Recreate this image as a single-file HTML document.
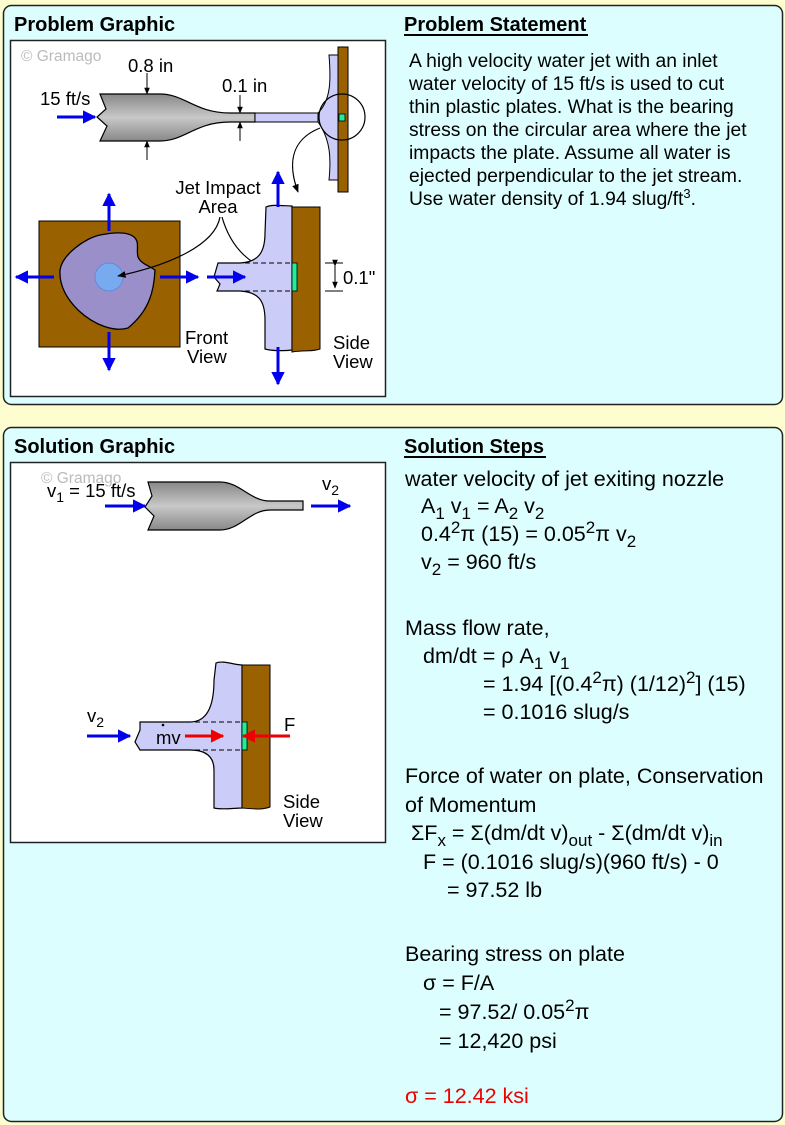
<!DOCTYPE html>
<html><head><meta charset="utf-8"><style>
html,body{margin:0;padding:0;background:#fdfdd0;}
svg{display:block;font-family:"Liberation Sans",Arial,sans-serif;}
</style></head><body>
<svg width="785" height="1125" viewBox="0 0 785 1125" xmlns="http://www.w3.org/2000/svg">
<defs>
<linearGradient id="g" x1="0" y1="0" x2="0" y2="1">
<stop offset="0" stop-color="#888"/><stop offset="0.5" stop-color="#c8c8c8"/><stop offset="1" stop-color="#888"/>
</linearGradient>
<marker id="bA" viewBox="0 0 10 10" refX="9" refY="5" markerWidth="4.5" markerHeight="4.5" orient="auto"><path d="M0,0L10,5L0,10z" fill="#0000ee"/></marker>
<marker id="rA" viewBox="0 0 10 10" refX="9" refY="5" markerWidth="4.5" markerHeight="4.5" orient="auto"><path d="M0,0L10,5L0,10z" fill="#ee0000"/></marker>
<marker id="kA" viewBox="0 0 10 10" refX="9" refY="5" markerWidth="7" markerHeight="7" orient="auto"><path d="M0,1L10,5L0,9z" fill="#000"/></marker>
</defs>
<rect width="785" height="1125" fill="#fdfdd0"/>
<rect x="3.5" y="5.5" width="779" height="399" rx="8" fill="#dcfefe" stroke="#222" stroke-width="1.5"/>
<rect x="3.5" y="427.5" width="779" height="694" rx="8" fill="#dcfefe" stroke="#222" stroke-width="1.5"/>
<rect x="10.5" y="40.5" width="375" height="356" fill="#fff" stroke="#222" stroke-width="1.5"/>
<rect x="10.5" y="462.5" width="375" height="380" fill="#fff" stroke="#222" stroke-width="1.5"/>
<g font-weight="bold" font-size="20">
<text x="14" y="31">Problem Graphic</text>
<text x="14" y="453">Solution Graphic</text>
<text x="404" y="31">Problem Statement</text>
<text x="404" y="453">Solution Steps</text>
</g>
<line x1="404" y1="35" x2="588" y2="35" stroke="#000" stroke-width="2"/>
<line x1="404" y1="457" x2="546" y2="457" stroke="#000" stroke-width="2"/>

<!-- Problem graphic -->
<text x="21" y="61" font-size="15.5" fill="#bbb">© Gramago</text>
<path d="M100,94 L160,94 C185,94 195,113 230,113 L255,113 L255,122 L230,122 C195,122 185,141 160,141 L100,141 L107,126 L97,117 L106,109 Z" fill="url(#g)" stroke="#000" stroke-width="1.2"/>
<rect x="255" y="113" width="70" height="9" fill="#ccccf8" stroke="#000" stroke-width="1"/>
<path d="M329,55 L338,55 L338,180 L329,180 C331,160 331,140 318,122 L318,113 C331,100 331,80 329,55 Z" fill="#ccccf8" stroke="#000" stroke-width="1"/>
<rect x="338" y="47" width="10" height="145" fill="#996100" stroke="#000" stroke-width="1"/>
<rect x="339" y="114" width="6" height="7" fill="#22ee99" stroke="#000" stroke-width="0.8"/>
<circle cx="342" cy="117" r="23" fill="none" stroke="#000" stroke-width="1.2"/>
<path d="M320,128 C290,140 288,165 298,192" fill="none" stroke="#000" stroke-width="1.2" marker-end="url(#kA)"/>
<line x1="57" y1="117" x2="95" y2="117" stroke="#0000ee" stroke-width="3" marker-end="url(#bA)"/>
<text x="40" y="105" font-size="18.5">15 ft/s</text>
<text x="128" y="72" font-size="18.5">0.8 in</text>
<text x="222" y="92" font-size="18.5">0.1 in</text>
<line x1="147" y1="73" x2="147" y2="94" stroke="#000" marker-end="url(#kA)"/>
<line x1="147" y1="160" x2="147" y2="141" stroke="#000" marker-end="url(#kA)"/>
<line x1="240" y1="95" x2="240" y2="113" stroke="#000" marker-end="url(#kA)"/>
<line x1="240" y1="141" x2="240" y2="122" stroke="#000" marker-end="url(#kA)"/>
<!-- front view -->
<rect x="39" y="221" width="141" height="126" fill="#996100" stroke="#000" stroke-width="1"/>
<path d="M60,270 C62,255 85,238 100,235 C115,232 128,232 134,237 C140,242 136,250 138,257 C141,264 150,266 155,270 C154,290 150,310 128,328 C115,332 95,326 78,310 C66,298 59,285 60,270 Z" fill="#9b8fca" stroke="#000" stroke-width="1.3"/>
<circle cx="109" cy="277" r="14" fill="#77aaee" stroke="#6688dd"/>
<line x1="109" y1="231" x2="109" y2="194" stroke="#0000ee" stroke-width="3" marker-end="url(#bA)"/>
<line x1="109" y1="332" x2="109" y2="370" stroke="#0000ee" stroke-width="3" marker-end="url(#bA)"/>
<line x1="54" y1="277" x2="16" y2="277" stroke="#0000ee" stroke-width="3" marker-end="url(#bA)"/>
<line x1="160" y1="277" x2="198" y2="277" stroke="#0000ee" stroke-width="3" marker-end="url(#bA)"/>
<text x="218" y="194" font-size="18.5" text-anchor="middle">Jet Impact</text>
<text x="218" y="213" font-size="18.5" text-anchor="middle">Area</text>
<path d="M220,217 C215,245 170,265 118,276" fill="none" stroke="#000" stroke-width="1.2" marker-end="url(#kA)"/>
<path d="M222,217 C230,245 250,272 290,273" fill="none" stroke="#000" stroke-width="1.2" marker-end="url(#kA)"/>
<text x="185" y="344" font-size="18.5">Front</text>
<text x="187" y="363" font-size="18.5">View</text>
<!-- side view -->
<path d="M266,207 C272,204 285,206 292,206 L292,350 C285,351 272,351 265,349 L265,320 C265,300 258,292 240,291 L217,291 L220,284 L214,277 L218,263 L240,263 C258,262 265,253 265,233 Z" fill="#ccccf8" stroke="#000" stroke-width="1.2"/>
<path d="M292,207 L320,207 L320,349 C312,352 305,350 292,352 Z" fill="#996100" stroke="#000" stroke-width="1"/>
<rect x="292" y="263" width="5" height="28" fill="#22ee99" stroke="#000" stroke-width="0.8"/>
<line x1="245" y1="263" x2="292" y2="263" stroke="#000" stroke-dasharray="5,3"/>
<line x1="245" y1="291" x2="292" y2="291" stroke="#000" stroke-dasharray="5,3"/>
<line x1="207" y1="277" x2="245" y2="277" stroke="#0000ee" stroke-width="3" marker-end="url(#bA)"/>
<line x1="278" y1="207" x2="278" y2="172" stroke="#0000ee" stroke-width="3" marker-end="url(#bA)"/>
<line x1="278" y1="347" x2="278" y2="384" stroke="#0000ee" stroke-width="3" marker-end="url(#bA)"/>
<line x1="325" y1="263" x2="343" y2="263" stroke="#000"/>
<line x1="325" y1="291" x2="343" y2="291" stroke="#000"/>
<line x1="335" y1="266" x2="335" y2="288" stroke="#000" marker-start="url(#kA)" marker-end="url(#kA)"/>
<text x="343" y="284" font-size="18.5">0.1"</text>
<text x="333" y="349" font-size="18.5">Side</text>
<text x="333" y="368" font-size="18.5">View</text>

<!-- Solution graphic -->
<text x="41" y="483" font-size="15.5" fill="#bbb">© Gramago</text>
<path d="M148,482 L220,482 C240,482 250,501 270,501 L303,501 L303,510 L270,510 C250,510 240,530 220,530 L148,530 L154,516 L145,507 L152,496 Z" fill="url(#g)" stroke="#000" stroke-width="1.2"/>
<line x1="105" y1="506" x2="145" y2="506" stroke="#0000ee" stroke-width="3" marker-end="url(#bA)"/>
<line x1="311" y1="506" x2="350" y2="506" stroke="#0000ee" stroke-width="3" marker-end="url(#bA)"/>
<text x="47" y="497" font-size="18.5">v<tspan dy="5" font-size="14">1</tspan><tspan dy="-5"> = 15 ft/s</tspan></text>
<text x="322" y="490" font-size="18.5">v<tspan dy="5" font-size="14">2</tspan></text>
<path d="M216,663 C222,660 235,665 242,665 L242,808 C235,808 222,810 214,808 L214,770 C214,756 205,750 190,750 L140,750 L135,742 L140,730 L140,722 L190,722 C205,722 214,710 214,680 Z" fill="#ccccf8" stroke="#000" stroke-width="1.2"/>
<path d="M242,665 L270,665 L270,807 C262,810 255,809 242,808 Z" fill="#996100" stroke="#000" stroke-width="1"/>
<rect x="242" y="722" width="5" height="28" fill="#22ee99" stroke="#000" stroke-width="0.8"/>
<line x1="195" y1="722" x2="242" y2="722" stroke="#000" stroke-dasharray="5,3"/>
<line x1="195" y1="750" x2="242" y2="750" stroke="#000" stroke-dasharray="5,3"/>
<line x1="87" y1="736" x2="130" y2="736" stroke="#0000ee" stroke-width="3" marker-end="url(#bA)"/>
<line x1="185" y1="736" x2="223" y2="736" stroke="#ee0000" stroke-width="3" marker-end="url(#rA)"/>
<line x1="290" y1="736" x2="243" y2="736" stroke="#ee0000" stroke-width="3" marker-end="url(#rA)"/>
<text x="87" y="722" font-size="18.5">v<tspan dy="5" font-size="14">2</tspan></text>
<text x="156" y="744" font-size="18.5">mv</text>
<circle cx="163" cy="725" r="1.3" fill="#000"/>
<text x="284" y="731" font-size="18.5">F</text>
<text x="283" y="808" font-size="18.5">Side</text>
<text x="283" y="827" font-size="18.5">View</text>

<!-- Problem statement -->
<g font-size="19.3">
<text x="409" y="67">A high velocity water jet with an inlet</text>
<text x="409" y="90">water velocity of 15 ft/s is used to cut</text>
<text x="409" y="113">thin plastic plates. What is the bearing</text>
<text x="409" y="136">stress on the circular area where the jet</text>
<text x="409" y="159">impacts the plate. Assume all water is</text>
<text x="409" y="182">ejected perpendicular to the jet stream.</text>
<text x="409" y="205">Use water density of 1.94 slug/ft<tspan dy="-7" font-size="13">3</tspan><tspan dy="7">.</tspan></text>
</g>
<!-- Solution steps -->
<g font-size="21.5">
<text x="405" y="486">water velocity of jet exiting nozzle</text>
<text x="421" y="513">A<tspan dy="6" font-size="17">1</tspan><tspan dy="-6"> v</tspan><tspan dy="6" font-size="17">1</tspan><tspan dy="-6"> = A</tspan><tspan dy="6" font-size="17">2</tspan><tspan dy="-6"> v</tspan><tspan dy="6" font-size="17">2</tspan></text>
<text x="421" y="541">0.4<tspan dy="-8" font-size="17">2</tspan><tspan dy="8">π (15) = 0.05</tspan><tspan dy="-8" font-size="17">2</tspan><tspan dy="8">π v</tspan><tspan dy="6" font-size="17">2</tspan></text>
<text x="421" y="569">v<tspan dy="6" font-size="17">2</tspan><tspan dy="-6"> = 960 ft/s</tspan></text>
<text x="405" y="635">Mass flow rate,</text>
<text x="423" y="663">dm/dt = ρ A<tspan dy="6" font-size="17">1</tspan><tspan dy="-6"> v</tspan><tspan dy="6" font-size="17">1</tspan></text>
<text x="483" y="691">= 1.94 [(0.4<tspan dy="-8" font-size="17">2</tspan><tspan dy="8">π) (1/12)</tspan><tspan dy="-8" font-size="17">2</tspan><tspan dy="8">] (15)</tspan></text>
<text x="483" y="719">= 0.1016 slug/s</text>
<text x="405" y="783">Force of water on plate, Conservation</text>
<text x="405" y="812">of Momentum</text>
<text x="411" y="840">ΣF<tspan dy="6" font-size="17">x</tspan><tspan dy="-6"> = Σ(dm/dt v)</tspan><tspan dy="6" font-size="17">out</tspan><tspan dy="-6"> - Σ(dm/dt v)</tspan><tspan dy="6" font-size="17">in</tspan></text>
<text x="423" y="869">F = (0.1016 slug/s)(960 ft/s) - 0</text>
<text x="447" y="897">= 97.52 lb</text>
<text x="405" y="961">Bearing stress on plate</text>
<text x="423" y="990">σ = F/A</text>
<text x="439" y="1019">= 97.52/ 0.05<tspan dy="-8" font-size="17">2</tspan><tspan dy="8">π</tspan></text>
<text x="439" y="1048">= 12,420 psi</text>
<text x="405" y="1103" fill="#ee0000">σ = 12.42 ksi</text>
</g>
</svg>
</body></html>
